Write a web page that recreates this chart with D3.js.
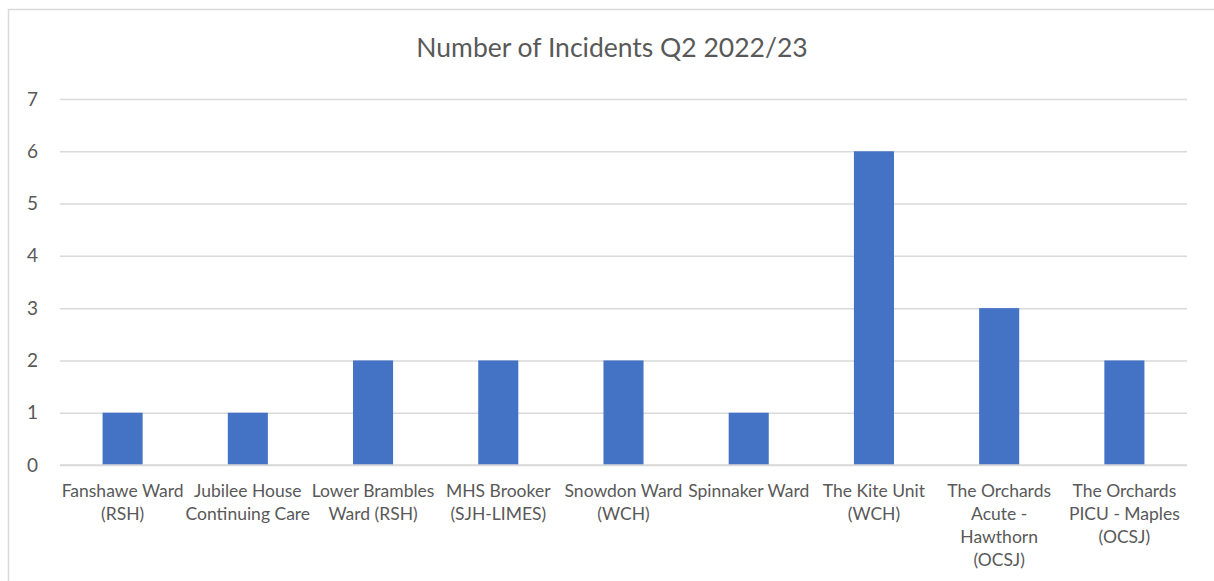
<!DOCTYPE html>
<html>
<head>
<meta charset="utf-8">
<script src="https://cdn.jsdelivr.net/npm/d3@7"></script>
<style>
  html, body { margin: 0; padding: 0; background: #fff; }
  svg { display: block; }
  text { font-family: Lato, "Open Sans", sans-serif; fill: #595959; }
</style>
</head>
<body>
<svg id="chart" width="1214" height="581"></svg>
<script>
// Incidents per ward, Q2 2022/23
const categories = [
  "Fanshawe Ward (RSH)",
  "Jubilee House Continuing Care",
  "Lower Brambles Ward (RSH)",
  "MHS Brooker (SJH-LIMES)",
  "Snowdon Ward (WCH)",
  "Spinnaker Ward",
  "The Kite Unit (WCH)",
  "The Orchards Acute - Hawthorn (OCSJ)",
  "The Orchards PICU - Maples (OCSJ)"
];
// wrapped axis label lines for each category
const categoryLines = [
  ["Fanshawe Ward", "(RSH)"],
  ["Jubilee House", "Continuing Care"],
  ["Lower Brambles", "Ward (RSH)"],
  ["MHS Brooker", "(SJH-LIMES)"],
  ["Snowdon Ward", "(WCH)"],
  ["Spinnaker Ward"],
  ["The Kite Unit", "(WCH)"],
  ["The Orchards", "Acute -", "Hawthorn", "(OCSJ)"],
  ["The Orchards", "PICU - Maples", "(OCSJ)"]
];
const incidents = [1, 1, 2, 2, 2, 1, 6, 3, 2];
const yTicks = [0, 1, 2, 3, 4, 5, 6, 7];
const title = "Number of Incidents Q2 2022/23";

const svg = d3.select("#chart");
const W = 1214, H = 581;
const plot = { left: 60, right: 1187, top: 99, bottom: 465 };

// chart frame
svg.append("path")
  .attr("d", `M8.5,${H} L8.5,9.5 L${W},9.5`)
  .attr("fill", "none")
  .attr("stroke", "#d9d9d9")
  .attr("stroke-width", 1.5);

const x = d3.scaleBand()
  .domain(categories)
  .range([plot.left, plot.right])
  .paddingInner(0.68)
  .paddingOuter(0.34);

const y = d3.scaleLinear()
  .domain([0, 7])
  .range([plot.bottom, plot.top]);

// gridlines and y labels
const yAxis = d3.axisLeft(y)
  .tickValues(yTicks)
  .tickSize(-(plot.right - plot.left))
  .tickPadding(22)
  .tickFormat(d3.format("d"));

const gy = svg.append("g")
  .attr("transform", `translate(${plot.left},0)`)
  .call(yAxis);
gy.select(".domain").remove();
gy.selectAll(".tick line")
  .attr("stroke", "#d9d9d9")
  .attr("stroke-width", 1.5);
gy.selectAll(".tick text")
  .attr("font-size", 19)
  .attr("fill", "#595959")
  .style("font-family", "Lato, 'Open Sans', sans-serif");

// bars
svg.append("g")
  .selectAll("rect")
  .data(categories)
  .join("rect")
  .attr("x", d => x(d))
  .attr("width", x.bandwidth())
  .attr("y", (d, i) => y(incidents[i]))
  .attr("height", (d, i) => y(0) - y(incidents[i]))
  .attr("fill", "#4472c4");

// baseline
svg.append("line")
  .attr("x1", plot.left).attr("x2", plot.right)
  .attr("y1", y(0)).attr("y2", y(0))
  .attr("stroke", "#d9d9d9")
  .attr("stroke-width", 1.5);

// category labels
const xl = svg.append("g");
categories.forEach((c, i) => {
  const cx = x(c) + x.bandwidth() / 2;
  const t = xl.append("text")
    .attr("text-anchor", "middle")
    .attr("font-size", 17.5)
    .attr("x", cx)
    .attr("y", 497);
  categoryLines[i].forEach((line, j) => {
    t.append("tspan")
      .attr("x", cx)
      .attr("dy", j === 0 ? 0 : 23)
      .text(line);
  });
});

// title
svg.append("text")
  .attr("x", 612)
  .attr("y", 57)
  .attr("text-anchor", "middle")
  .attr("font-size", 26.5)
  .text(title);
</script>
</body>
</html>
